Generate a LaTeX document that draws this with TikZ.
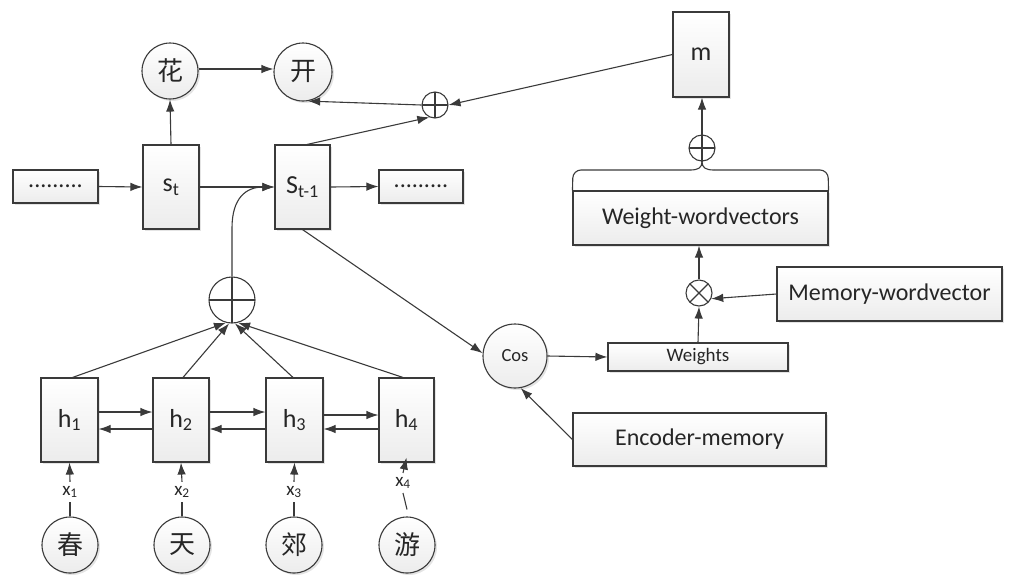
\documentclass[tikz,border=0pt]{standalone}
\usepackage{fontspec}
\setmainfont{Carlito}
\newfontfamily\cjk{Noto Sans CJK SC}
\usetikzlibrary{arrows.meta,shadows}
\definecolor{lc}{HTML}{3A3A3A}
\begin{document}
\begin{tikzpicture}[x=1pt,y=-1pt,
  lnc/.style={draw=lc,line width=1.1pt},
  arr/.style={lnc,-{Latex[length=12pt,width=8.5pt]}},
  shd/.style={drop shadow={shadow xshift=2pt,shadow yshift=-2pt,opacity=0.3,fill=gray!70}},
  box/.style={rectangle,draw=lc,line width=1.1pt,top color=white,bottom color=gray!15,shd,inner sep=0pt,text=black!85},
  rnd/.style={circle,draw=lc,line width=1.1pt,top color=white,bottom color=gray!15,shd,inner sep=0pt,text=black!85},
  opl/.style={circle,draw=lc,line width=1.1pt,fill=white,minimum size=#1,inner sep=0pt,
    path picture={\draw[lc,line width=1.1pt] (path picture bounding box.north) -- (path picture bounding box.south) (path picture bounding box.west) -- (path picture bounding box.east);}},
  otm/.style={circle,draw=lc,line width=1.1pt,fill=white,minimum size=#1,inner sep=0pt,
    path picture={\draw[lc,line width=1.1pt] (path picture bounding box.north west) -- (path picture bounding box.south east) (path picture bounding box.south west) -- (path picture bounding box.north east);}},
  big/.style={font=\fontsize{26}{28}\selectfont},
  mid/.style={font=\fontsize{24}{26}\selectfont},
  wts/.style={font=\fontsize{19}{21}\selectfont},
  sml/.style={font=\fontsize{18.5}{20}\selectfont},
  zh/.style={font=\cjk\fontsize{26}{28}\selectfont},
  lab/.style={font=\fontsize{19}{20}\selectfont,text=black!85,inner sep=4pt},
]
\useasboundingbox (0,0) rectangle (1019,574);
% decoder row
\node[box,minimum width=85pt,minimum height=33pt,mid] (dl) at (55.5,186.5) {.........};
\node[box,minimum width=56pt,minimum height=84pt,big] (st) at (171,187) {s\textsubscript{t}};
\node[box,minimum width=55pt,minimum height=84pt,big] (sp) at (302.5,187) {S\textsubscript{t-1}};
\node[box,minimum width=84pt,minimum height=33pt,mid] (dr) at (421,186.5) {.........};
\node[rnd,minimum size=56pt,zh] (hua) at (170,71) {花};
\node[rnd,minimum size=58pt,zh] (kai) at (303,72) {开};
\node[opl=26pt] (pt) at (435,105) {};
% memory side
\node[box,minimum width=56pt,minimum height=85pt,big] (m) at (701,54.5) {m};
\node[opl=26pt] (pm) at (702,148) {};
\node[box,minimum width=255pt,minimum height=54pt,mid] (ww) at (700.5,218) {Weight-wordvectors};
\node[otm=26pt] (ot) at (699,293) {};
\node[box,minimum width=225pt,minimum height=54pt,mid] (mw) at (889.5,294) {Memory-wordvector};
\node[box,minimum width=180pt,minimum height=28pt,wts] (wt) at (698,357) {Weights};
\node[rnd,minimum size=64pt,sml] (cos) at (515,356) {Cos};
\node[box,minimum width=253pt,minimum height=53pt,mid] (em) at (699.5,439.5) {Encoder-memory};
% encoder
\node[opl=46pt] (bp) at (232,300) {};
\node[box,minimum width=57pt,minimum height=84pt,big] (h1) at (69.5,420) {h\textsubscript{1}};
\node[box,minimum width=56pt,minimum height=84pt,big] (h2) at (181,420) {h\textsubscript{2}};
\node[box,minimum width=57pt,minimum height=84pt,big] (h3) at (294.5,420) {h\textsubscript{3}};
\node[box,minimum width=55pt,minimum height=84pt,big] (h4) at (406.5,420) {h\textsubscript{4}};
\node[rnd,minimum size=56pt,zh] (c1) at (70,545) {春};
\node[rnd,minimum size=56pt,zh] (c2) at (182,545) {天};
\node[rnd,minimum size=56pt,zh] (c3) at (294,545) {郊};
\node[rnd,minimum size=56pt,zh] (c4) at (407,545) {游};
\node[lab] (x1) at (70,492) {x\textsubscript{1}};
\node[lab] (x2) at (182,492) {x\textsubscript{2}};
\node[lab] (x3) at (294,492) {x\textsubscript{3}};
\node[lab] (x4) at (403,483) {x\textsubscript{4}};
% brace top of Weight-wordvectors
\draw[lnc,rounded corners=8pt] (ww.north west) -- (573,170) -- (690,170);
\draw[lnc] (690,170) .. controls (698,170) and (702,168) .. (pm.south);
\draw[lnc,rounded corners=8pt] (ww.north east) -- (828,170) -- (714,170);
\draw[lnc] (714,170) .. controls (706,170) and (702,168) .. (pm.south);
% connectors decoder
\draw[arr] (dl.east) -- (st.west);
\draw[arr] (st.east) -- (sp.west);
\draw[arr] (sp.east) -- (dr.west);
\draw[arr] (st.north) -- (hua.south);
\draw[arr] ([yshift=2pt]hua.east) -- ([yshift=2pt]hua.east -| kai.west);
\draw[arr] ([xshift=4.5pt]sp.north) -- (pt.-115);
\draw[arr] (m.west) -- (pt.east);
\draw[arr] (pt.west) -- (kai.-80);
\draw[arr] (bp.north) -- (232,228) .. controls (232,198) and (246,187) .. (sp.west);
% memory connectors
\draw[arr] (pm.south) -- (pm.south |- m.south);
\draw[arr] (sp.south) -- (cos.175);
\draw[arr] (cos.east) -- (wt.west);
\draw[arr] (wt.north) -- (ot.south);
\draw[arr] (mw.west) -- (ot.-25);
\draw[arr] (ot.north) -- (ot.north |- ww.south);
\draw[arr] (em.west) -- (cos.-80);
% encoder connectors
\draw[arr] ([xshift=3pt]h1.north) -- (bp.-105);
\draw[arr] ([xshift=2pt]h2.north) -- (bp.-97);
\draw[arr] ([xshift=-1.5pt]h3.north) -- (bp.-83);
\draw[arr] ([xshift=-3.5pt]h4.north) -- (bp.-75);
\draw[arr] ([yshift=8pt]h1.east) -- ([yshift=8pt]h2.west);
\draw[arr] ([yshift=-9pt]h2.west) -- ([yshift=-9pt]h1.east);
\draw[arr] ([yshift=8pt]h2.east) -- ([yshift=8pt]h3.west);
\draw[arr] ([yshift=-9pt]h3.west) -- ([yshift=-9pt]h2.east);
\draw[arr] ([yshift=5pt]h3.east) -- ([yshift=5pt]h4.west);
\draw[arr] ([yshift=-9pt]h4.west) -- ([yshift=-9pt]h3.east);
\foreach \i in {1,2,3}{
  \draw[lnc] (c\i.north) -- (x\i.south);
  \draw[arr] (x\i.north) -- (h\i.south);
}
\draw[lnc] ([yshift=7pt]c4.north) -- (x4.south);
\draw[arr] (x4.north) -- ([yshift=5pt]h4.south);
\end{tikzpicture}
\end{document}
